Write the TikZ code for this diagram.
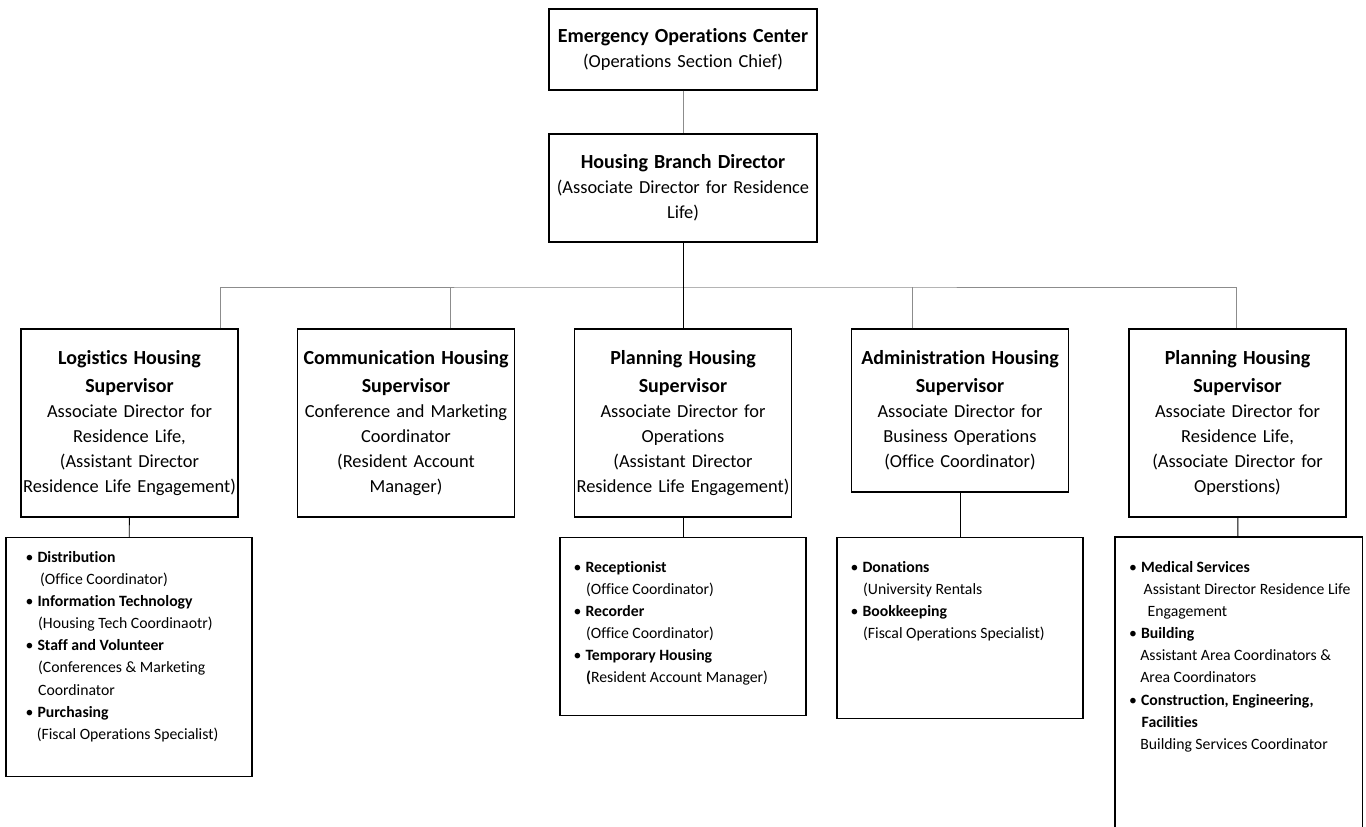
\documentclass[tikz,border=0pt]{standalone}
\usepackage{fontspec}
\setmainfont{Carlito}[Ligatures=NoCommon]

\newcommand{\ttl}[1]{{\fontsize{15}{18.75}\selectfont\bfseries #1}}
\newcommand{\bul}[1]{\makebox[9pt][l]{\textbullet}\textbf{#1}}
\newcommand{\ind}{\hspace*{9.5pt}}

\tikzset{
    unitbox/.style={draw, line width=1.1pt, minimum width=162.75pt, minimum height=141pt,
        inner sep=0pt, text width=162pt, align=center,
        font=\fontsize{13.8}{18.75}\selectfont},
    topbox/.style={unitbox, minimum width=201pt, text width=196pt},
    listbox/.style={draw, line width=1.1pt, minimum width=184.5pt, inner sep=0pt, anchor=north},
    listtext/.style={anchor=north west, inner sep=0pt, align=left,
        font=\fontsize{11.8}{16.6}\selectfont},
    link/.style={draw=black!45, line width=0.6pt},
    drop/.style={draw=black, line width=0.7pt}
}

\begin{document}
\begin{tikzpicture}[x=0.75pt, y=-0.75pt]
    \useasboundingbox (0,0) rectangle (1366,827);

    % top of the chart
    \node[topbox, minimum height=60.75pt] (eoc) at (683,49.5)
        {\ttl{Emergency Operations Center}\\(Operations Section Chief)};
    \node[topbox, minimum height=81pt] (hbd) at (683,188)
        {\ttl{Housing Branch Director}\\(Associate Director for Residence\\Life)};

    % supervisors
    \node[unitbox] (logsup) at (129.5,423)
        {\ttl{Logistics Housing\\[2pt]Supervisor}\\Associate Director for\\Residence Life,\\(Assistant Director\\Residence Life Engagement)};
    \node[unitbox] (comsup) at (406,423)
        {\ttl{Communication Housing\\[2pt]Supervisor}\\Conference and Marketing\\Coordinator\\(Resident Account\\Manager)};
    \node[unitbox] (plansup) at (683,423)
        {\ttl{Planning Housing\\[2pt]Supervisor}\\Associate Director for\\Operations\\(Assistant Director\\Residence Life Engagement)};
    \node[unitbox, minimum height=122.25pt] (admsup) at (960,410.5)
        {\ttl{Administration Housing\\[2pt]Supervisor}\\Associate Director for\\Business Operations\\(Office Coordinator)};
    \node[unitbox] (opsup) at (1237.5,423)
        {\ttl{Planning Housing\\[2pt]Supervisor}\\Associate Director for\\Residence Life,\\(Associate Director for\\Operstions)};

    % task lists
    \node[listbox, minimum height=179.25pt] (loglist) at (129,537) {};
    \node[listtext] (logtext) at ([shift={(20,14)}]loglist.north west)
        {\bul{Distribution}\\
         \ind\hspace*{1.5pt}(Office Coordinator)\\
         \bul{Information Technology}\\
         \ind(Housing Tech Coordinaotr)\\
         \bul{Staff and Volunteer}\\
         \ind(Conferences \& Marketing\\
         \ind Coordinator\\
         \bul{Purchasing}\\
         \ind\hspace*{-1pt}(Fiscal Operations Specialist)};

    \node[listbox, minimum height=133.5pt] (planlist) at (683,537) {};
    \node[listtext] (plantext) at ([shift={(14,24)}]planlist.north west)
        {\bul{Receptionist}\\
         \ind(Office Coordinator)\\
         \bul{Recorder}\\
         \ind(Office Coordinator)\\
         \bul{Temporary Housing}\\
         \ind\textbf{(}Resident Account Manager)};

    \node[listbox, minimum height=135.75pt] (admlist) at (960,537) {};
    \node[listtext] (admtext) at ([shift={(14,24)}]admlist.north west)
        {\bul{Donations}\\
         \ind(University Rentals\\
         \bul{Bookkeeping}\\
         \ind(Fiscal Operations Specialist)};

    \node[listbox, draw=none, minimum height=217.5pt] (oplist) at (1238.5,537) {};
    \draw[line width=1.1pt] (oplist.south west) -- (oplist.north west)
        -- (oplist.north east) -- (oplist.south east);
    \node[listtext] (optext) at ([shift={(14,24)}]oplist.north west)
        {\bul{Medical Services}\\
         \ind\hspace*{1.5pt}Assistant Director Residence Life\\
         \ind\hspace*{4.5pt}Engagement\\
         \bul{Building}\\
         \ind\hspace*{-1pt}Assistant Area Coordinators \&\\
         \ind\hspace*{-1pt}Area Coordinators\\
         \bul{Construction, Engineering,}\\
         \ind\textbf{Facilities}\\
         \ind\hspace*{-1pt}Building Services Coordinator};

    % connectors
    \coordinate (bus) at (683,287);
    \draw[link] (eoc) -- (hbd);
    \draw[link] ([xshift=68pt]logsup.north) |- (bus) -| ([xshift=-0.5]opsup.north);
    \draw[link] ([xshift=33pt]comsup.north) -- ([xshift=33pt]comsup.north |- bus);
    \draw[link] ([xshift=-36pt]admsup.north) -- ([xshift=-36pt]admsup.north |- bus);
    \draw[drop] (hbd) -- (plansup);
    \draw[drop] (logsup) -- (loglist);
    \draw[drop] (plansup) -- (planlist);
    \draw[drop] (admsup) -- (admlist);
    \draw[drop] (opsup) -- (oplist);
\end{tikzpicture}
\end{document}
